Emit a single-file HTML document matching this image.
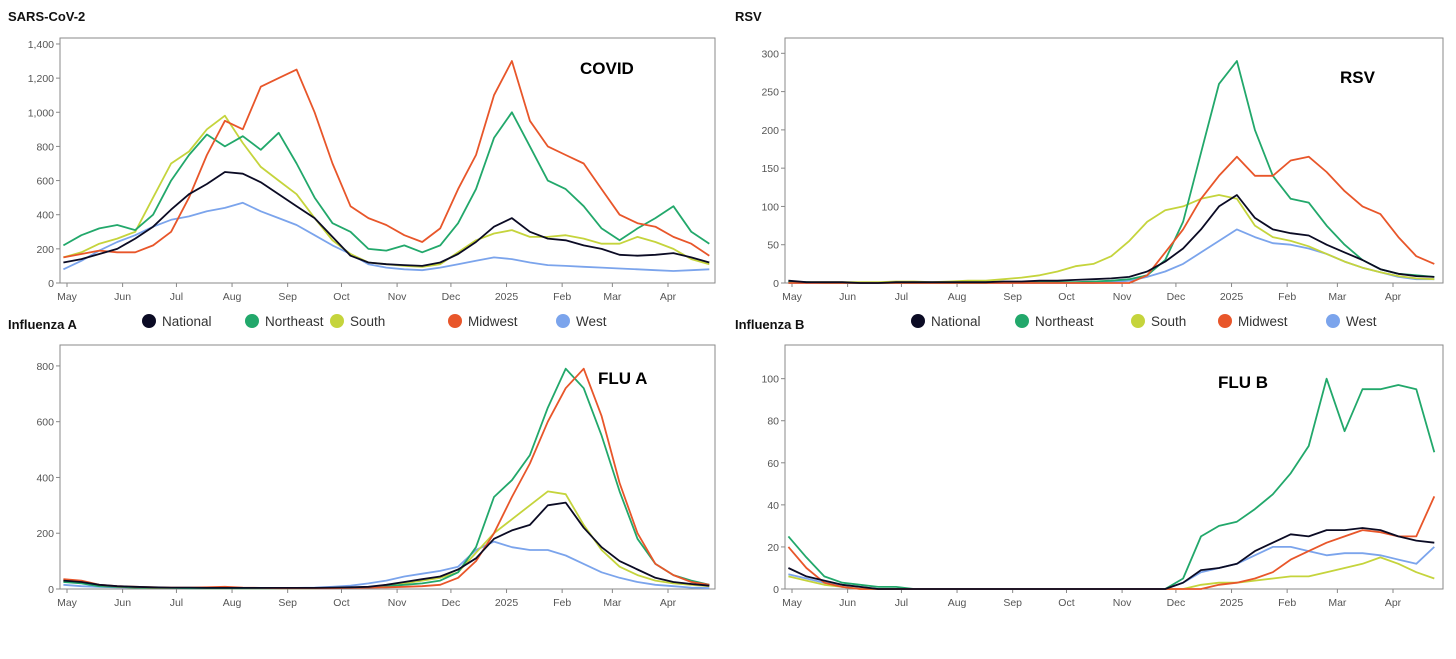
<!DOCTYPE html>
<html><head><meta charset="utf-8"><style>
body{margin:0;background:#fff;font-family:"Liberation Sans",sans-serif}
svg text{font-family:"Liberation Sans",sans-serif}
</style></head><body>
<svg id="c" width="1456" height="654" xmlns="http://www.w3.org/2000/svg"></svg>
<script>
const days=[-2,8,18,28,38,48,58,68,78,88,98,108,118,128,138,148,158,168,178,188,198,208,218,228,238,248,258,268,278,288,298,308,318,328,338,348,358];
const monthLabels=["May","Jun","Jul","Aug","Sep","Oct","Nov","Dec","2025","Feb","Mar","Apr"];
const monthDays=[0,31,61,92,123,153,184,214,245,276,304,335];
const seriesNames=["National","Northeast","South","Midwest","West"];
const seriesColors=["#0b0b24","#22a86b","#c5d43c","#e8562a","#7ba4ec"];

const covidNational=[120,140,170,200,260,330,430,520,580,650,640,590,520,450,380,270,160,120,110,105,100,120,170,240,330,380,300,260,250,220,200,165,160,165,175,150,120];
const covidNortheast=[220,280,320,340,310,400,600,750,870,800,860,780,880,700,500,350,300,200,190,220,180,220,350,550,850,1000,800,600,550,450,320,250,320,380,450,300,230];
const covidSouth=[150,180,230,260,300,500,700,770,900,980,820,680,600,520,380,250,170,120,110,100,95,110,180,250,290,310,270,270,280,260,230,230,270,240,200,140,110];
const covidMidwest=[150,170,190,180,180,220,300,500,750,950,900,1150,1200,1250,1000,700,450,380,340,280,240,320,550,750,1100,1300,950,800,750,700,550,400,350,330,270,230,160];
const covidWest=[80,130,190,240,280,330,370,390,420,440,470,420,380,340,280,220,170,110,90,80,75,90,110,130,150,140,120,105,100,95,90,85,80,75,70,75,80];

const rsvNational=[3,1,1,1,0,0,1,1,1,1,1,1,2,2,3,3,4,5,6,8,15,28,45,70,100,115,85,70,65,62,50,40,30,18,12,9,8];
const rsvNortheast=[2,1,0,0,0,0,0,0,0,0,0,0,1,1,1,1,1,2,3,5,10,30,80,170,260,290,200,140,110,105,75,50,30,18,12,10,8];
const rsvSouth=[2,1,1,1,1,1,2,2,1,2,3,3,5,7,10,15,22,25,35,55,80,95,100,110,115,110,75,60,55,48,38,28,20,14,9,6,5];
const rsvMidwest=[0,0,0,0,0,0,0,0,0,0,0,0,0,0,0,0,0,0,0,0,10,40,70,110,140,165,140,140,160,165,145,120,100,90,60,35,25];
const rsvWest=[0,0,0,0,0,0,0,0,0,0,0,0,0,0,0,0,0,0,1,3,8,15,25,40,55,70,60,52,50,45,38,28,20,14,8,5,5];

const fluANational=[30,25,15,10,8,6,5,5,4,4,4,4,4,4,4,5,6,8,15,25,35,45,70,110,180,210,230,300,310,220,150,100,70,40,25,18,12];
const fluANortheast=[25,20,10,8,5,4,4,3,3,3,3,3,3,3,3,4,5,6,10,15,20,30,60,150,330,390,480,650,790,720,550,350,180,90,50,30,15];
const fluASouth=[30,25,12,8,5,4,4,4,3,3,3,3,3,3,3,4,5,7,10,20,30,40,60,130,200,250,300,350,340,230,140,80,50,30,20,15,10];
const fluAMidwest=[35,30,15,10,8,6,5,5,6,8,5,4,3,3,3,3,4,5,6,8,10,15,40,100,200,330,450,600,720,790,620,380,200,90,50,25,15];
const fluAWest=[15,10,8,6,5,5,4,4,4,4,4,4,4,4,5,8,12,20,30,45,55,65,80,140,170,150,140,140,120,90,60,40,25,15,10,5,3];

const fluBNational=[10,6,4,2,1,0,0,0,0,0,0,0,0,0,0,0,0,0,0,0,0,0,3,9,10,12,18,22,26,25,28,28,29,28,25,23,22];
const fluBNortheast=[25,15,6,3,2,1,1,0,0,0,0,0,0,0,0,0,0,0,0,0,0,0,5,25,30,32,38,45,55,68,100,75,95,95,97,95,65];
const fluBSouth=[6,4,2,1,0,0,0,0,0,0,0,0,0,0,0,0,0,0,0,0,0,0,0,2,3,3,4,5,6,6,8,10,12,15,12,8,5];
const fluBMidwest=[20,10,3,1,0,0,0,0,0,0,0,0,0,0,0,0,0,0,0,0,0,0,0,0,2,3,5,8,14,18,22,25,28,27,25,25,44];
const fluBWest=[7,5,3,2,1,0,0,0,0,0,0,0,0,0,0,0,0,0,0,0,0,0,3,8,10,12,16,20,20,18,16,17,17,16,14,12,20];

const covidTicks=["0","200","400","600","800","1,000","1,200","1,400"];
const rsvTicks=["0","50","100","150","200","250","300"];
const fluATicks=["0","200","400","600","800"];
const fluBTicks=["0","20","40","60","80","100"];

const NS="http://www.w3.org/2000/svg";
const svg=document.getElementById('c');
function mk(tag,attrs,parent){const e=document.createElementNS(NS,tag);for(const k in attrs)e.setAttribute(k,attrs[k]);(parent||svg).appendChild(e);return e;}

function panel(cfg){
  const g=mk('g',{});
  
  
  const {x0,x1,y0,y1,max,ticks,step}=cfg;
  const xs=d=>x0+7+d*1.794;
  const ys=v=>y1-(v/max)*(y1-y0);
  const t=mk('text',{x:cfg.tx,y:cfg.ty,'font-size':13,'font-weight':'bold',fill:'#111'},g);
  t.textContent=cfg.title;
  
  
  const box=mk('rect',{x:x0,y:y0,width:x1-x0,height:y1-y0,fill:'none',stroke:'#8a8a8a','stroke-width':1},g);
  
  
  ticks.forEach((lab,i)=>{
    const y=ys(i*step);
    mk('line',{x1:x0-4,x2:x0,y1:y,y2:y,stroke:'#888'},g);
    const tt=mk('text',{x:x0-6,y:y+4,'font-size':10.5,fill:'#555','text-anchor':'end'},g);
    tt.textContent=lab;
    
    
  });
  monthLabels.forEach((lab,i)=>{
    const x=xs(monthDays[i]);
    mk('line',{x1:x,x2:x,y1:y1,y2:y1+4,stroke:'#888'},g);
    const tt=mk('text',{x:x,y:y1+17,'font-size':10.5,fill:'#555','text-anchor':'middle'},g);
    tt.textContent=lab;
    
    
  });
  const order=[4,2,1,3,0];
  order.forEach(si=>{
    const vals=cfg.series[si];
    const d=vals.map((v,i)=>(i?'L':'M')+xs(days[i]).toFixed(1)+','+ys(v).toFixed(1)).join('');
    const p=mk('path',{d:d,fill:'none',stroke:seriesColors[si],'stroke-width':1.8,'stroke-linejoin':'round'},g);
    
    
  });
  const lb=mk('text',{x:cfg.lx,y:cfg.ly,'font-size':17,'font-weight':'bold',fill:'#000'},g);
  lb.textContent=cfg.label;
  
  
}
panel({name:'covid-panel',title:'SARS-CoV-2',tx:8,ty:21,x0:60,x1:715,y0:38,y1:283,max:1435,step:200,ticks:covidTicks,label:'COVID',lx:580,ly:74,series:[covidNational,covidNortheast,covidSouth,covidMidwest,covidWest]});
panel({name:'rsv-panel',title:'RSV',tx:735,ty:21,x0:785,x1:1443,y0:38,y1:283,max:320,step:50,ticks:rsvTicks,label:'RSV',lx:1340,ly:83,series:[rsvNational,rsvNortheast,rsvSouth,rsvMidwest,rsvWest]});
panel({name:'flu-a-panel',title:'Influenza A',tx:8,ty:329,x0:60,x1:715,y0:345,y1:589,max:875,step:200,ticks:fluATicks,label:'FLU A',lx:598,ly:384,series:[fluANational,fluANortheast,fluASouth,fluAMidwest,fluAWest]});
panel({name:'flu-b-panel',title:'Influenza B',tx:735,ty:329,x0:785,x1:1443,y0:345,y1:589,max:116,step:20,ticks:fluBTicks,label:'FLU B',lx:1218,ly:388,series:[fluBNational,fluBNortheast,fluBSouth,fluBMidwest,fluBWest]});

function legend(cx,name){
  const g=mk('g',{});
  
  
  cx.forEach((x,i)=>{
    const c=mk('circle',{cx:x,cy:321,r:7,fill:seriesColors[i]},g);
    
    
    const t=mk('text',{x:x+13,y:326,'font-size':13.5,fill:'#333'},g);
    t.textContent=seriesNames[i];
    
    
  });
}
legend([149,252,337,455,563],'legend-left');
legend([918,1022,1138,1225,1333],'legend-right');
</script>
</body></html>
